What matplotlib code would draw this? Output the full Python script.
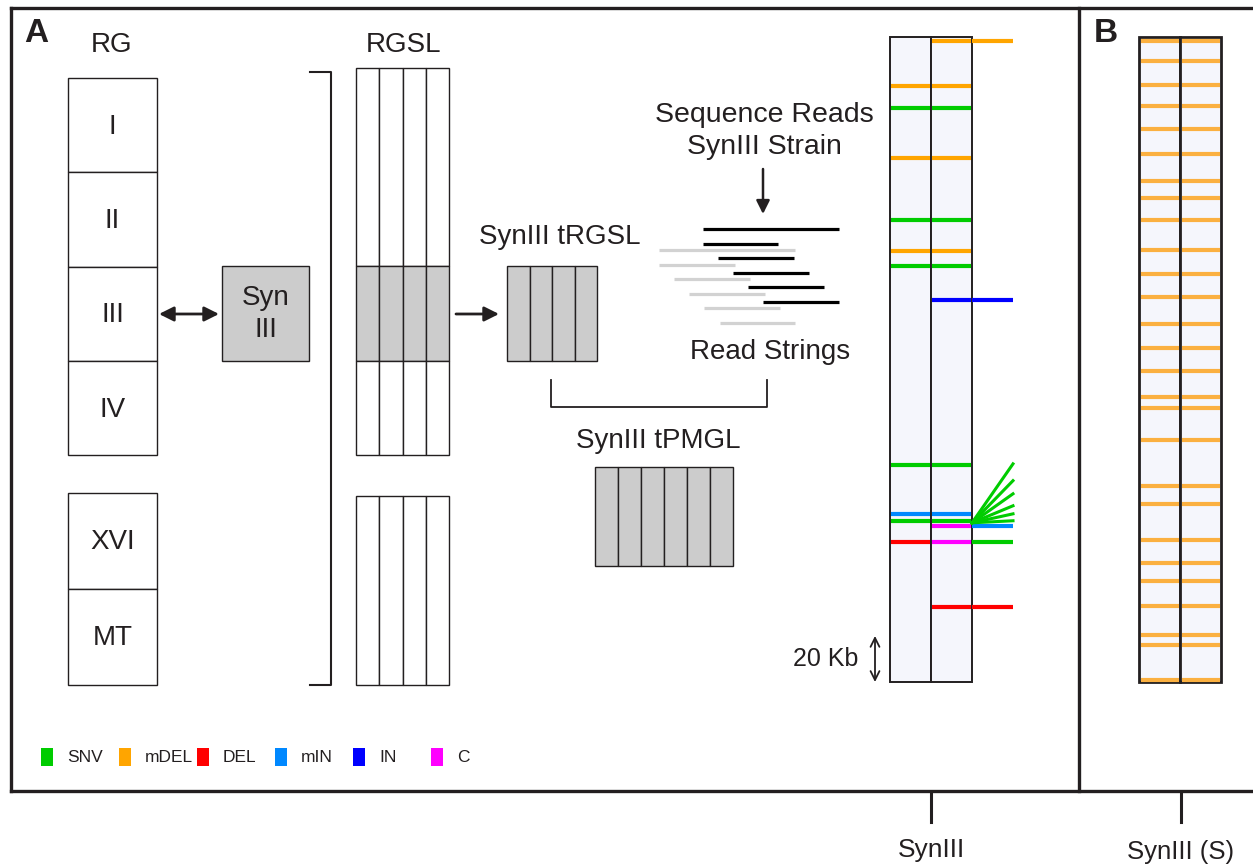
import matplotlib.pyplot as plt
from matplotlib.patches import Rectangle

plt.rcParams['font.family'] = ['Liberation Sans', 'DejaVu Sans']

INK = '#231f20'

# ---- data ----
rg_top = ["I", "II", "III", "IV"]
rg_bottom = ["XVI", "MT"]

variant_colors = {
    "SNV": "#00cc00",
    "mDEL": "#ffa500",
    "DEL": "#ff0000",
    "mIN": "#0088ff",
    "IN": "#0000ff",
    "C": "#ff00ff",
}
legend_order = ["SNV", "mDEL", "DEL", "mIN", "IN", "C"]

# SynIII chromosome, positions in kb
chrom_len_kb = 280
left_pos = [21.3, 30.9, 52.6, 79.6, 93.0, 99.6, 185.7, 207.0, 210.0, 219.1]
left_type = ["mDEL", "SNV", "mDEL", "SNV", "mDEL", "SNV", "SNV", "mIN", "SNV", "DEL"]
right_pos = [1.9, 21.3, 30.9, 52.6, 79.6, 93.0, 99.6, 114.3, 185.7, 207.0,
             210.0, 212.2, 219.1, 247.4]
right_type = ["mDEL", "mDEL", "SNV", "mDEL", "SNV", "mDEL", "SNV", "IN", "SNV", "mIN",
              "SNV", "C", "C", "DEL"]
side_pos = [1.9, 114.3, 212.2, 219.1, 247.4]
side_type = ["mDEL", "IN", "mIN", "SNV", "DEL"]
fan_origin_kb = 210.9
fan_ends_kb = [185.3, 192.6, 198.3, 203.5, 207.0, 210.0]

# SynIII (S) chromosome, mDEL positions in kb
s_pos = [1.7, 10.4, 20.9, 30.0, 40.0, 50.9, 62.6, 70.0, 79.6, 92.6, 103.0, 113.0,
         124.8, 135.2, 144.8, 156.1, 160.9, 174.8, 194.8, 202.6, 218.3, 228.3,
         236.1, 247.0, 259.6, 263.9, 279.1]

# read strings (x start/end)
black_start = [703, 703, 718, 733, 748, 763]
black_end = [839, 778, 794, 809, 824, 839]
gray_start = [659, 659, 674, 689, 704, 720]
gray_end = [795, 735, 750, 765, 780, 795]

# ---- drawing ----
fig = plt.figure(figsize=(12.53, 8.67), dpi=100)
ax = fig.add_axes([0, 0, 1, 1])
ax.set_xlim(0, 1253)
ax.set_ylim(867, 0)
ax.axis('off')


def box(x, y, w, h, fc='white', lw=1.0):
    ax.add_patch(Rectangle((x, y), w, h, fc=fc, ec=INK, lw=lw))


def txt(x, y, s, size=20, **kw):
    ax.text(x, y, s, fontsize=size, color=INK, ha='center', va='center', **kw)


# frames
ax.plot([11, 1253], [8, 8], color=INK, lw=2.4, solid_capstyle='projecting')
ax.plot([11, 1253], [791, 791], color=INK, lw=2.4, solid_capstyle='projecting')
ax.plot([11, 11], [8, 791], color=INK, lw=2.4)
ax.plot([1079, 1079], [8, 791], color=INK, lw=2.4)
txt(36, 33, "A", size=24, fontweight='bold')
txt(1106, 33, "B", size=24, fontweight='bold')

# RG column
txt(112, 45, "RG")
for i, lab in enumerate(rg_top):
    box(68, 78 + i * 94.25, 89, 94.25)
    txt(112.5, 78 + i * 94.25 + 49, lab)
for i, lab in enumerate(rg_bottom):
    box(68, 493 + i * 96, 89, 96)
    txt(112.5, 493 + i * 96 + 49, lab)

# double arrow to Syn III
ax.annotate("", xy=(219, 314), xytext=(159, 314),
            arrowprops=dict(arrowstyle='<|-|>', color=INK, lw=2, mutation_scale=22,
                            shrinkA=0, shrinkB=0))
box(222, 266, 87, 95, fc='#cccccc')
txt(265.5, 314, "Syn\nIII", linespacing=1.3)

# bracket
ax.plot([310, 331, 331, 310], [72, 72, 685, 685], color=INK, lw=1.5)

# RGSL
txt(403, 45, "RGSL")
for c in range(4):
    x0 = 356 + c * 23.25
    box(x0, 68, 23.25, 198)
    box(x0, 266, 23.25, 95, fc='#cccccc')
    box(x0, 361, 23.25, 94)
    box(x0, 496, 23.25, 189)

ax.annotate("", xy=(499, 314), xytext=(456, 314),
            arrowprops=dict(arrowstyle='-|>', color=INK, lw=2, mutation_scale=22,
                            shrinkA=0, shrinkB=0))

# SynIII tRGSL
txt(560, 237, "SynIII tRGSL")
for c in range(4):
    box(507 + c * 22.5, 266, 22.5, 95, fc='#cccccc')

ax.plot([551, 551, 767, 767], [380, 407, 407, 380], color=INK, lw=1.3)

# SynIII tPMGL
txt(658, 441, "SynIII tPMGL")
for c in range(6):
    box(595 + c * 23, 467, 23, 99, fc='#cccccc')

# sequence reads
txt(764, 115, "Sequence Reads", size=20.5)
txt(764, 147, "SynIII Strain", size=20.5)
ax.annotate("", xy=(763, 214), xytext=(763, 169),
            arrowprops=dict(arrowstyle='-|>', color=INK, lw=1.8, mutation_scale=20,
                            shrinkA=0, shrinkB=0))
for i, (s, e) in enumerate(zip(black_start, black_end)):
    y = 229 + i * 14.6
    ax.plot([s, e], [y, y], color='black', lw=2.3, solid_capstyle='butt')
for i, (s, e) in enumerate(zip(gray_start, gray_end)):
    y = 250 + i * 14.6
    ax.plot([s, e], [y, y], color='#d2d2d2', lw=2.3, solid_capstyle='butt')
txt(770, 352, "Read Strings")

# SynIII chromosome
top, bot = 37, 682
kb = (bot - top) / chrom_len_kb


def ky(p):
    return top + p * kb


ax.add_patch(Rectangle((890, top), 41, bot - top, fc='#f5f6fc', ec=INK, lw=1.4))
ax.add_patch(Rectangle((931, top), 41, bot - top, fc='#f5f6fc', ec=INK, lw=1.4))
for p, t in zip(left_pos, left_type):
    ax.plot([891, 930], [ky(p), ky(p)], color=variant_colors[t], lw=3, solid_capstyle='butt')
for p, t in zip(right_pos, right_type):
    ax.plot([932, 971], [ky(p), ky(p)], color=variant_colors[t], lw=3, solid_capstyle='butt')
for p, t in zip(side_pos, side_type):
    ax.plot([972, 1013], [ky(p), ky(p)], color=variant_colors[t], lw=3, solid_capstyle='butt')
for p in fan_ends_kb:
    ax.plot([972, 1013], [ky(fan_origin_kb), ky(p)], color=variant_colors["SNV"], lw=2.2)

# scale bar
txt(826, 659, "20 Kb", size=18)
ax.annotate("", xy=(875, ky(chrom_len_kb)), xytext=(875, ky(chrom_len_kb - 20)),
            arrowprops=dict(arrowstyle='<->', color=INK, lw=1.3, mutation_scale=16,
                            shrinkA=0, shrinkB=0))

# SynIII (S) chromosome
ax.add_patch(Rectangle((1139, top), 41, bot - top, fc='#f5f6fc', ec=INK, lw=2))
ax.add_patch(Rectangle((1180, top), 41, bot - top, fc='#f5f6fc', ec=INK, lw=2))
for p in s_pos:
    for x0 in (1140, 1181):
        ax.plot([x0 + 1, x0 + 39], [ky(p), ky(p)], color='#fbb040', lw=3,
                solid_capstyle='butt')

# bottom labels
ax.plot([931, 931], [793, 822], color=INK, lw=2.2)
ax.plot([1181, 1181], [793, 822], color=INK, lw=2.2)
txt(931, 850, "SynIII", size=19)
txt(1181, 852, "SynIII (S)", size=18.5)

# legend
leg_sq_x = [41, 119, 197, 275, 353, 431]
for x0, lab in zip(leg_sq_x, legend_order):
    ax.add_patch(Rectangle((x0, 748), 12, 18, fc=variant_colors[lab], ec='none'))
    ax.text(x0 + 26, 758, lab, fontsize=12.5, color=INK, ha='left', va='center')

fig.savefig("out.png", dpi=100)
